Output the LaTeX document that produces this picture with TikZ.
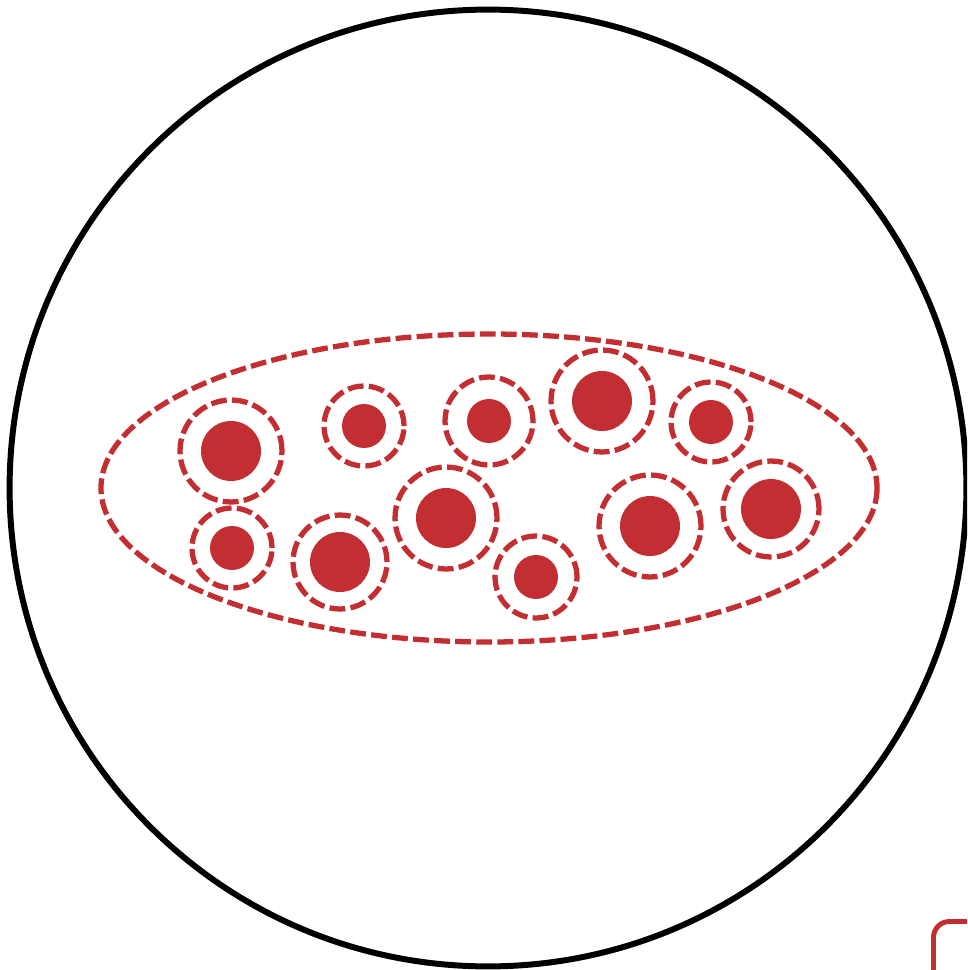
\documentclass[tikz,border=0pt]{standalone}
\usepackage{tikz}
\usetikzlibrary{positioning}
\definecolor{cellred}{HTML}{C22E31}

\begin{document}
\begin{tikzpicture}[x=0.02cm, y=-0.02cm,
  membrane/.style={dashed, draw=cellred, line width=3pt,
    dash pattern=on 9pt off 3pt},
  nucleus/.style={circle, fill=cellred, inner sep=0pt},
  ring/.style={circle, membrane, inner sep=0pt},
]
  \useasboundingbox (0,0) rectangle (967,970);
  \clip (0,0) rectangle (967,970);

  % outer dish
  \node[circle, draw=black, line width=3.4pt, inner sep=0pt,
    minimum size=19.14cm] (dish) at (488,488) {};

  % colony outline
  \draw[membrane] (489,488) ellipse (388 and 154);

  % cells: x / y / nucleus radius / ring radius
  \foreach \x/\y/\r/\R [count=\i] in {
      231/451/30/51, 364/426/22/40, 489/421/22/44, 602/401/30/51,
      711/422/22/40, 232/548/22/40, 340/562/30/47, 446/518/30/51,
      536/577/22/41, 650/526/30/51, 771/509/30/48} {
    \node[nucleus, minimum size=0.04*\r cm] (nuc\i) at (\x,\y) {};
    \node[ring, minimum size=0.04*\R cm] (cell\i) at (\x,\y) {};
  }

  % corner of the next panel
  \draw[cellred, line width=2.8pt, rounded corners=9pt]
    (933.5,1010) -- (933.5,921.5) -- (1010,921.5);
\end{tikzpicture}
\end{document}
